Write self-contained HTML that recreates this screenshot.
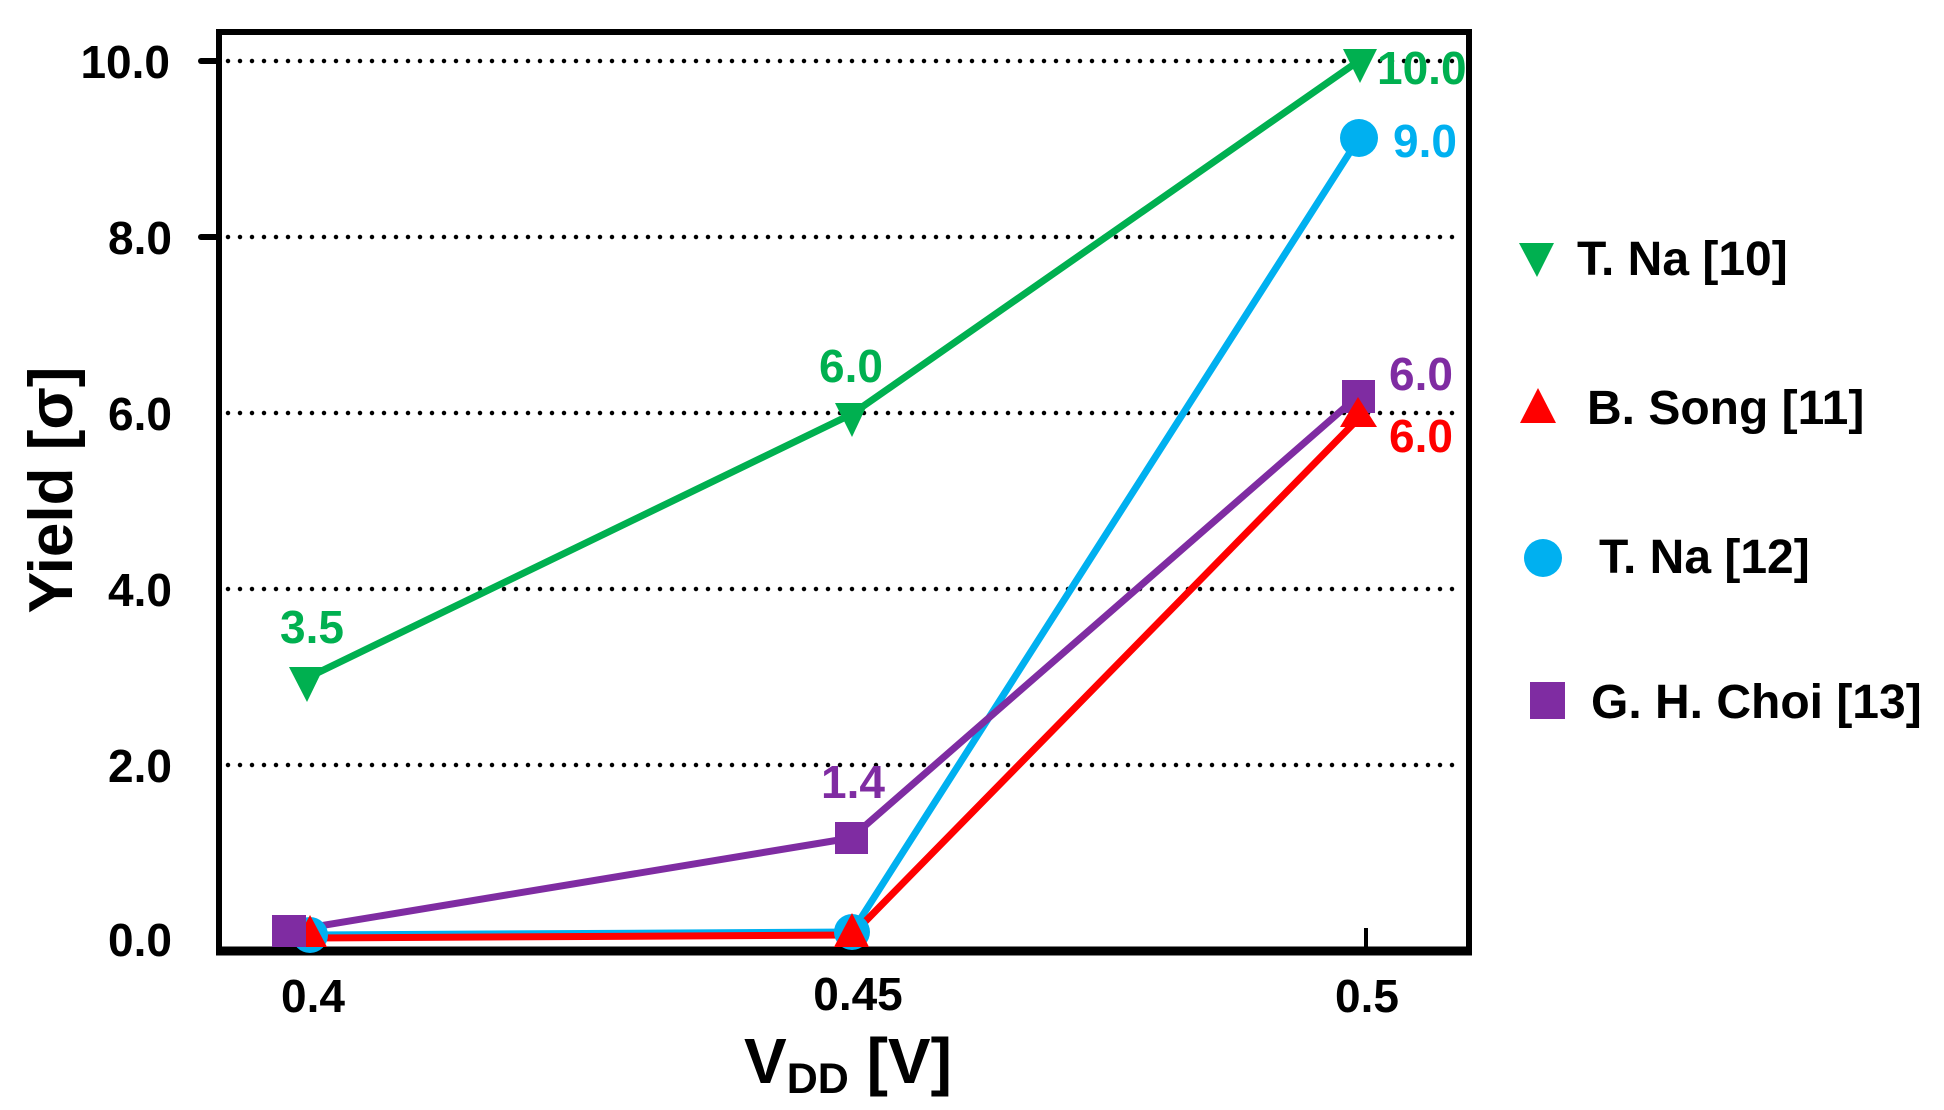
<!DOCTYPE html>
<html><head><meta charset="utf-8"><style>
html,body{margin:0;padding:0;background:#fff;}
svg{display:block;}
text{font-family:"Liberation Sans",Arial,sans-serif;font-weight:bold;}
</style></head><body>
<svg width="1944" height="1110" viewBox="0 0 1944 1110" xmlns="http://www.w3.org/2000/svg">
<g stroke="#000" stroke-width="4.5" stroke-linecap="round" stroke-dasharray="0 12">
<line x1="228" y1="61" x2="1462" y2="61"/>
<line x1="228" y1="237" x2="1462" y2="237"/>
<line x1="228" y1="413" x2="1462" y2="413"/>
<line x1="228" y1="589" x2="1462" y2="589"/>
<line x1="228" y1="765" x2="1462" y2="765"/>
</g>
<rect x="219" y="32" width="1250" height="919" fill="none" stroke="#000" stroke-width="6"/>
<line x1="216" y1="951" x2="1472" y2="951" stroke="#000" stroke-width="9"/>
<g stroke="#000" stroke-width="6" stroke-linecap="round">
<line x1="201" y1="61" x2="218" y2="61"/>
<line x1="201" y1="237" x2="218" y2="237"/>
</g>
<line x1="1366" y1="928" x2="1366" y2="948" stroke="#000" stroke-width="4"/>
<g font-size="46" text-anchor="end" fill="#000">
<text x="170" y="78">10.0</text>
<text x="172" y="254">8.0</text>
<text x="172" y="430">6.0</text>
<text x="172" y="606">4.0</text>
<text x="172" y="782">2.0</text>
<text x="172" y="956">0.0</text>
</g>
<g font-size="46" text-anchor="middle" fill="#000">
<text x="313" y="1012">0.4</text>
<text x="858" y="1010">0.45</text>
<text x="1367" y="1012">0.5</text>
</g>
<text x="744" y="1083" font-size="64">V<tspan font-size="43" dy="10">DD</tspan><tspan dy="-10"> [V]</tspan></text>
<text transform="translate(72,490) rotate(-90)" font-size="62" text-anchor="middle">Yield [σ]</text>
<g fill="none" stroke-width="7" stroke-linejoin="round">
<polyline points="307,678 852,414 1360,60" stroke="#00b050"/>
<polyline points="310,935 852,932 1359,138" stroke="#00b0f0"/>
<polyline points="289,931 851,838 1358,396" stroke="#7f2ca2"/>
<polyline points="310,938 852,935 1360,417" stroke="#ff0000"/>
</g>
<circle cx="310" cy="935" r="18" fill="#00b0f0"/>
<polygon points="293,947 310,915 327,947" fill="#ff0000"/>
<rect x="272" y="915" width="34" height="32" fill="#7f2ca2"/>
<polygon points="289,667 324,667 307,702" fill="#00b050"/>

<circle cx="852" cy="932" r="18" fill="#00b0f0"/>
<polygon points="834,947 852,913 869,947" fill="#ff0000"/>
<rect x="835" y="822" width="33" height="32" fill="#7f2ca2"/>
<polygon points="835,403 868,403 852,437" fill="#00b050"/>

<polygon points="1343,49 1377,49 1360,83" fill="#00b050"/>
<circle cx="1359" cy="138" r="19" fill="#00b0f0"/>
<rect x="1342" y="380" width="33" height="33" fill="#7f2ca2"/>
<polygon points="1340,427 1358,397 1377,427" fill="#ff0000"/>
<g font-size="46">
<text x="312" y="643" text-anchor="middle" fill="#00b050">3.5</text>
<text x="851" y="382" text-anchor="middle" fill="#00b050">6.0</text>
<text x="1377" y="84" fill="#00b050">10.0</text>
<text x="1393" y="157" fill="#00b0f0">9.0</text>
<text x="1389" y="390" fill="#7f2ca2">6.0</text>
<text x="1389" y="452" fill="#ff0000">6.0</text>
<text x="853" y="798" text-anchor="middle" fill="#7f2ca2">1.4</text>
</g>
<polygon points="1519,243 1554,243 1537,277" fill="#00b050"/>
<polygon points="1520,423 1538,388 1556,423" fill="#ff0000"/>
<circle cx="1543" cy="558" r="19" fill="#00b0f0"/>
<rect x="1530" y="682" width="35" height="37" fill="#7f2ca2"/>
<g font-size="48" fill="#000">
<text x="1577" y="275">T. Na [10]</text>
<text x="1587" y="424">B. Song [11]</text>
<text x="1599" y="573">T. Na [12]</text>
<text x="1591" y="718">G. H. Choi [13]</text>
</g>
</svg>
</body></html>
